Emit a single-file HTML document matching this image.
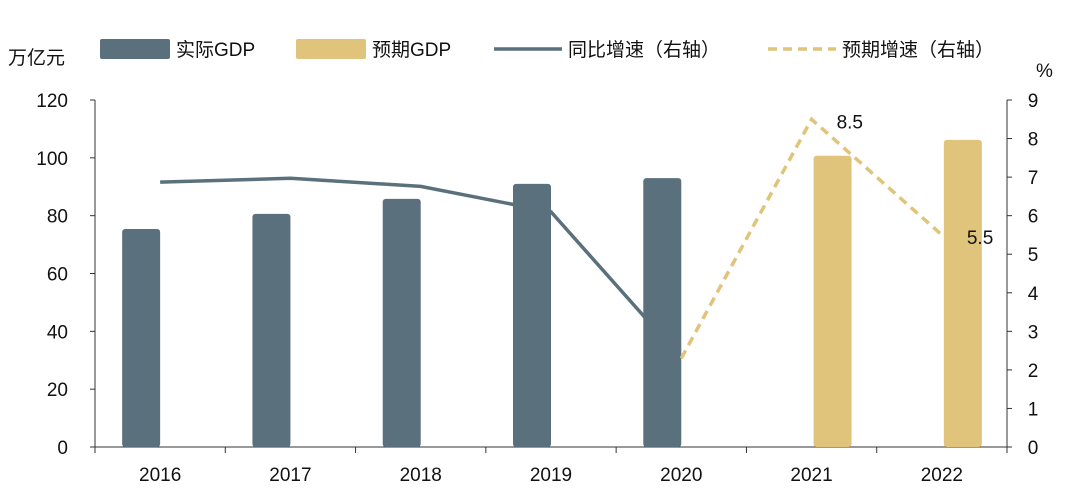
<!DOCTYPE html>
<html><head><meta charset="utf-8"><style>
html,body{margin:0;padding:0;background:#fff;width:1080px;height:504px;overflow:hidden}
svg text{font-family:"Liberation Sans","Noto Sans CJK SC",sans-serif;fill:#111}
</style></head><body>
<svg id="chart" width="1080" height="504" xmlns="http://www.w3.org/2000/svg">
<g>
<rect x="100" y="39" width="70" height="20" rx="2" fill="#5a717d"/>
<text x="176" y="56" font-size="19">实际GDP</text>
<rect x="296" y="39" width="70" height="20" rx="2" fill="#e0c47c"/>
<text x="372" y="56" font-size="19">预期GDP</text>
<line x1="494" y1="49" x2="562" y2="49" stroke="#5a717d" stroke-width="3.5"/>
<text x="568" y="56" font-size="19">同比增速（右轴）</text>
<line x1="768" y1="49" x2="836" y2="49" stroke="#e0c47c" stroke-width="3.5" stroke-dasharray="9,6"/>
<text x="842" y="56" font-size="19">预期增速（右轴）</text>
</g>
<text x="8" y="64" font-size="19">万亿元</text>
<text x="1036" y="77" font-size="19">%</text>
<g id="axes"></g>
<g id="marks"></g>
</svg>
<script>
const categories=["2016","2017","2018","2019","2020","2021","2022"];
const actualGDP=[75.4,80.6,85.8,91.0,93.0,null,null];
const forecastGDP=[null,null,null,null,null,100.7,106.2];
const growth=[6.87,6.97,6.76,6.1,2.3,null,null];
const forecastGrowth=[null,null,null,null,2.3,8.5,5.5];
const forecastLabels=[null,null,null,null,null,"8.5","5.5"];
const leftTicks=[0,20,40,60,80,100,120];
const rightTicks=[0,1,2,3,4,5,6,7,8,9];

const X0=95,X1=1007,Y0=447,Y1=100;
const band=(X1-X0)/categories.length;
const xc=i=>X0+band*(i+0.5);
const yL=v=>Y0-(v/120)*(Y0-Y1);
const yR=v=>Y0-(v/9)*(Y0-Y1);
const NS="http://www.w3.org/2000/svg";
const axes=document.getElementById('axes'),marks=document.getElementById('marks');
function mk(t,p,a){const e=document.createElementNS(NS,t);for(const k in a)e.setAttribute(k,a[k]);p.appendChild(e);return e;}

let e=mk('line',axes,{x1:X0,y1:Y1,x2:X0,y2:Y0,stroke:'#333','stroke-width':1});


e=mk('line',axes,{x1:X1,y1:Y1,x2:X1,y2:Y0,stroke:'#333','stroke-width':1});


e=mk('line',axes,{x1:X0,y1:Y0,x2:X1,y2:Y0,stroke:'#333','stroke-width':1});


leftTicks.forEach(v=>{
 const t=mk('line',axes,{x1:X0-5,y1:yL(v),x2:X0,y2:yL(v),stroke:'#333'});
 
 
 const l=mk('text',axes,{x:X0-27,y:yL(v)+7,'font-size':19,'text-anchor':'end'});l.textContent=v;
 
 
});
rightTicks.forEach(v=>{
 const t=mk('line',axes,{x1:X1,y1:yR(v),x2:X1+5,y2:yR(v),stroke:'#333'});
 
 
 const l=mk('text',axes,{x:X1+26,y:yR(v)+7,'font-size':19,'text-anchor':'middle'});l.textContent=v;
 
 
});
for(let i=0;i<=categories.length;i++){
 const t=mk('line',axes,{x1:X0+band*i,y1:Y0,x2:X0+band*i,y2:Y0+6,stroke:'#333'});
 
 
}
categories.forEach((c,i)=>{
 const l=mk('text',axes,{x:xc(i),y:Y0+34,'font-size':19,'text-anchor':'middle'});l.textContent=c;
 
 
});
function line(arr,attrs,name){
 const pts=[];arr.forEach((v,i)=>{if(v!=null)pts.push(xc(i)+','+yR(v));});
 const p=mk('polyline',marks,Object.assign({points:pts.join(' '),fill:'none','stroke-width':3.5},attrs));
 
 
}
line(growth,{stroke:'#5a717d'},'growth-line');
const BW=38;
function bars(arr,color,name,off){
 arr.forEach((v,i)=>{if(v==null)return;
  const b=mk('rect',marks,{x:xc(i)+off-BW/2,y:yL(v),width:BW,height:Y0-yL(v),rx:3,fill:color});
  
  
 });
}
bars(actualGDP,'#5a717d','bar-actual',-19);
bars(forecastGDP,'#e0c47c','bar-forecast',21);
line(forecastGrowth,{stroke:'#e0c47c','stroke-dasharray':'9,6'},'forecast-growth-line');
forecastLabels.forEach((s,i)=>{if(!s)return;
 const l=mk('text',marks,{x:xc(i)+25,y:yR(forecastGrowth[i])+9,'font-size':19});l.textContent=s;
 
 
});
</script>
</body></html>
